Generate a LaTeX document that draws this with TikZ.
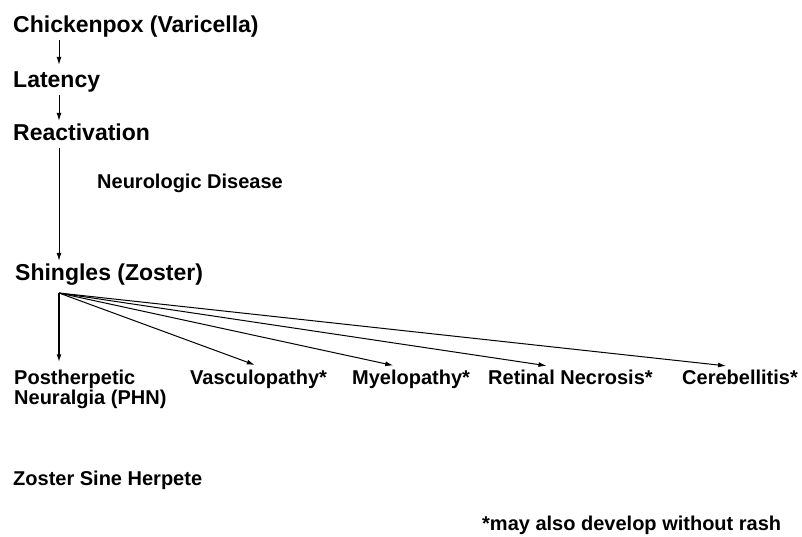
\documentclass[tikz,border=0pt]{standalone}
\usepackage{fontspec}
\setmainfont{Liberation Sans}
\usetikzlibrary{arrows.meta}

\begin{document}
\begin{tikzpicture}[x=1pt,y=-1pt,
  stage/.style={anchor=base west,inner sep=3pt,
    font=\bfseries\fontsize{23}{27}\selectfont,text height=16pt,text depth=5pt},
  outcome/.style={anchor=base west,inner sep=3pt,align=left,
    font=\bfseries\fontsize{20}{20}\selectfont},
  arr/.style={-{Latex[length=8pt,width=5pt]},line width=1pt},
  fan/.style={arr,shorten >=4pt}]
  \useasboundingbox (0,0) rectangle (802,536);
  \coordinate (spine) at (59,0);
  \node[stage] (pox) at (10,32) {Chickenpox (Varicella)};
  \node[stage] (lat) at (10,87) {Latency};
  \node[stage] (react) at (10,140) {Reactivation};
  \node[outcome] (neuro) at (94,188) {Neurologic Disease};
  \node[stage] (shing) at (12,280) {Shingles (Zoster)};
  \coordinate (hub) at (59,293);
  \node[outcome] (phn) at (11,404) {Postherpetic\\Neuralgia (PHN)};
  \node[outcome] (vasc) at (187,384) {Vasculopathy*};
  \node[outcome] (myel) at (349,384) {Myelopathy*};
  \node[outcome] (ret) at (485,384) {Retinal Necrosis*};
  \node[outcome] (cereb) at (679,384) {Cerebellitis*};
  \node[outcome] (zsh) at (10,485) {Zoster Sine Herpete};
  \node[outcome] (note) at (479,530) {*may also develop without rash};
  \draw[arr,shorten >=3pt] (pox.south -| spine) -- (lat.north -| spine);
  \draw[arr] (lat.south -| spine) -- (react.north -| spine);
  \draw[arr] (react.south -| spine) -- (shing.north -| spine);
  \draw[fan,line width=1.6pt] (hub) -- (phn.north -| spine);
  \draw[fan] (hub) -- (vasc.north);
  \draw[fan] (hub) -- ([xshift=-14pt]myel.north);
  \draw[fan] (hub) -- ([xshift=-20pt]ret.north);
  \draw[fan] (hub) -- ([xshift=-10pt]cereb.north);
\end{tikzpicture}
\end{document}
